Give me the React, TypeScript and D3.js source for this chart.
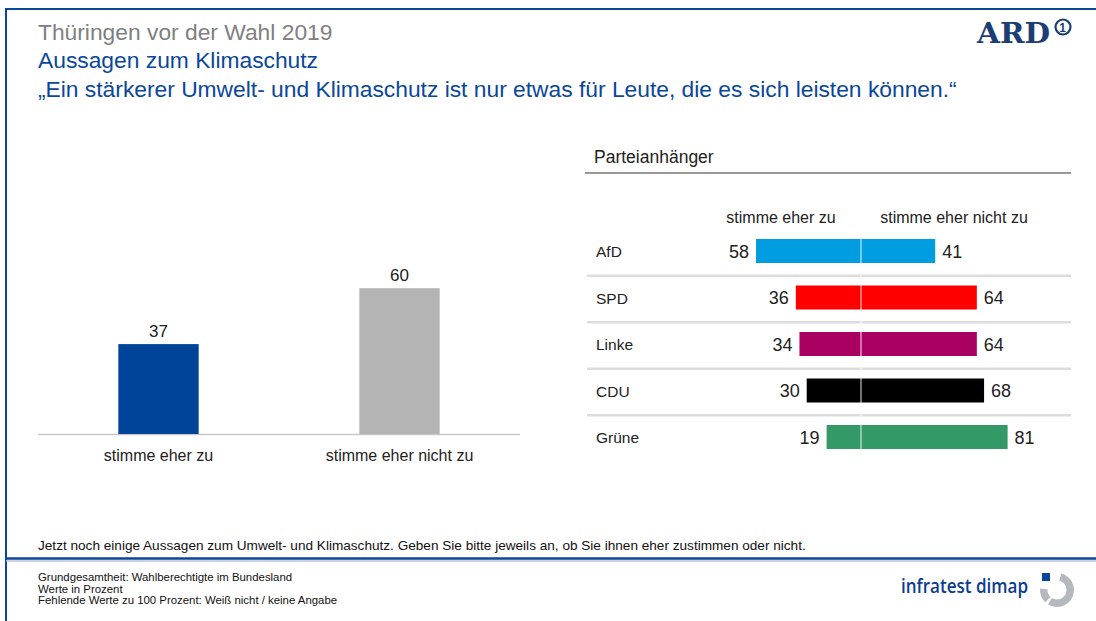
import React from "react";
import * as d3 from "d3";

// data
const totalLabels = ["stimme eher zu", "stimme eher nicht zu"];
const totalValues = [37, 60];
const totalColors = ["#00449a", "#b4b4b4"];

const parties = ["AfD", "SPD", "Linke", "CDU", "Grüne"];
const agree = [58, 36, 34, 30, 19];
const disagree = [41, 64, 64, 68, 81];
const partyColors = ["#009ee0", "#ff0000", "#aa0061", "#000000", "#339966"];

const footnotes = [
  "Grundgesamtheit: Wahlberechtigte im Bundesland",
  "Werte in Prozent",
  "Fehlende Werte zu 100 Prozent: Weiß nicht / keine Angabe",
];

const width = 1096;
const height = 621;
const font = "'Liberation Sans', Arial, sans-serif";
const blue = "#0a479b";

const App = () => {
  // left chart: total
  const xTotal = d3.scaleBand().domain(totalLabels).range([38, 520]);
  const yTotal = d3.scaleLinear().domain([0, 100]).range([434, 191]);
  const barW = xTotal.bandwidth() / 3;

  // right chart: by party
  const center = 861;
  const xParty = d3.scaleLinear().domain([0, 100]).range([0, 181]);
  const yParty = d3.scaleBand().domain(parties).range([227.75, 460.25]);
  const barH = 24;

  // infratest ring
  const ring = d3.arc().innerRadius(9.5).outerRadius(17);

  return (
    <svg
      width={width}
      height={height}
      style={{ position: "absolute", left: 0, top: 0, background: "#fff" }}
      fontFamily={font}
    >
      {/* frame */}
      <line x1={6} x2={width} y1={9} y2={9} stroke={blue} strokeWidth={2} />
      <line x1={6} x2={6} y1={8} y2={height} stroke={blue} strokeWidth={2} />

      {/* titles */}
      <text x={38} y={40} fontSize={22.8} fill="#808080">
        Thüringen vor der Wahl 2019
      </text>
      <text x={38} y={68} fontSize={22.8} fill={blue}>
        Aussagen zum Klimaschutz
      </text>
      <text x={38} y={97} fontSize={22.8} fill={blue}>
        „Ein stärkerer Umwelt- und Klimaschutz ist nur etwas für Leute, die es sich leisten können.“
      </text>

      {/* ARD logo */}
      <text
        x={977}
        y={43}
        fontSize={28}
        fontWeight="bold"
        fontFamily="'DejaVu Serif', 'Liberation Serif', serif"
        fill="#1b3e74"
        textLength={73}
        lengthAdjust="spacingAndGlyphs"
      >
        ARD
      </text>
      <circle cx={1063} cy={27} r={7.5} fill="none" stroke="#1b3e74" strokeWidth={2.2} />
      <text x={1062.5} y={31.5} fontSize={12} fontWeight="bold" textAnchor="middle" fill="#1b3e74">
        1
      </text>

      {/* left chart */}
      <line x1={38} x2={520} y1={434.5} y2={434.5} stroke="#c8c8c8" strokeWidth={1.5} />
      {totalLabels.map((l, i) => {
        const cx = (xTotal(l) as number) + xTotal.bandwidth() / 2;
        return (
          <g key={l}>
            <rect
              x={cx - barW / 2}
              y={yTotal(totalValues[i])}
              width={barW}
              height={yTotal(0) - yTotal(totalValues[i])}
              fill={totalColors[i]}
            />
            <text x={cx} y={yTotal(totalValues[i]) - 7} fontSize={17} textAnchor="middle" fill="#222">
              {totalValues[i]}
            </text>
            <text x={cx} y={461} fontSize={16} textAnchor="middle" fill="#222">
              {l}
            </text>
          </g>
        );
      })}

      {/* right chart */}
      <text x={594} y={163} fontSize={17.5} fill="#222">
        Parteianhänger
      </text>
      <line x1={585} x2={1071} y1={173} y2={173} stroke="#999" strokeWidth={2} />
      <text x={781} y={223} fontSize={16} textAnchor="middle" fill="#222">
        stimme eher zu
      </text>
      <text x={954} y={223} fontSize={16} textAnchor="middle" fill="#222">
        stimme eher nicht zu
      </text>

      {parties.slice(1).map((p) => (
        <line
          key={p}
          x1={587}
          x2={1071}
          y1={(yParty(p) as number) + 1.5}
          y2={(yParty(p) as number) + 1.5}
          stroke="#dddddd"
          strokeWidth={2.5}
        />
      ))}

      {parties.map((p, i) => {
        const cy = (yParty(p) as number) + yParty.bandwidth() / 2;
        const wl = xParty(agree[i]);
        const wr = xParty(disagree[i]);
        return (
          <g key={p}>
            <text x={596} y={cy + 6} fontSize={15.5} fill="#222">
              {p}
            </text>
            <rect x={center - wl} y={cy - barH / 2} width={wl} height={barH} fill={partyColors[i]} />
            <rect x={center} y={cy - barH / 2} width={wr} height={barH} fill={partyColors[i]} />
            <text x={center - wl - 7} y={cy + 6.5} fontSize={18} textAnchor="end" fill="#222">
              {agree[i]}
            </text>
            <text x={center + wr + 7} y={cy + 6.5} fontSize={18} fill="#222">
              {disagree[i]}
            </text>
          </g>
        );
      })}
      <line
        x1={center}
        x2={center}
        y1={(yParty(parties[0]) as number) + 8}
        y2={(yParty(parties[parties.length - 1]) as number) + yParty.bandwidth() - 8}
        stroke="#fff"
        strokeOpacity={0.75}
        strokeWidth={1.2}
      />

      {/* question and footer */}
      <text x={38} y={550} fontSize={13.6} fill="#111">
        Jetzt noch einige Aussagen zum Umwelt- und Klimaschutz. Geben Sie bitte jeweils an, ob Sie ihnen eher zustimmen oder nicht.
      </text>
      <line x1={6} x2={width} y1={558.5} y2={558.5} stroke={blue} strokeWidth={2.5} />
      <line x1={6} x2={width} y1={561} y2={561} stroke="#b8c3d6" strokeWidth={1.5} />
      {footnotes.map((f, i) => (
        <text key={f} x={38} y={581 + i * 11.5} fontSize={11.4} fill="#111">
          {f}
        </text>
      ))}

      {/* infratest dimap logo */}
      <text
        x={901}
        y={593}
        fontSize={20}
        fill="#0a3d8f"
        fontFamily="'Open Sans', 'Noto Sans', sans-serif"
        fontWeight={600}
        textLength={127}
        lengthAdjust="spacingAndGlyphs"
      >
        infratest dimap
      </text>
      <g transform="translate(1057,590)">
        <path
          d={ring({ startAngle: 0.25, endAngle: 3.7 } as any) as string}
          fill="#b5b9bf"
        />
        <path
          d={ring({ startAngle: 3.9, endAngle: 4.8 } as any) as string}
          fill="#b5b9bf"
        />
        <rect x={-15} y={-17} width={8} height={8} fill="#0a479b" />
      </g>
    </svg>
  );
};

export default App;
